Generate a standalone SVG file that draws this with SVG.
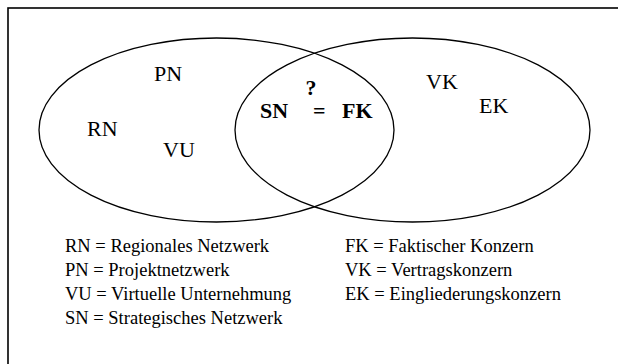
<svg xmlns="http://www.w3.org/2000/svg" width="618" height="364" viewBox="0 0 618 364">
<style>
text{font-family:'Liberation Serif','Times New Roman',serif;fill:#000}
.big{font-size:22px}
.b{font-size:22px;font-weight:bold}
.leg{font-size:18.5px}
.sh{fill:none;stroke:#000;stroke-width:1.3}
</style>
<rect width="618" height="364" fill="#fff"/>
<g id="frame"><rect x="8" y="8" width="620" height="370" fill="none" stroke="#000" stroke-width="1.6"/></g>
<g id="set-networks"><ellipse class="sh" cx="216.5" cy="130" rx="177.5" ry="92"/></g>
<g id="set-konzerne"><ellipse class="sh" cx="412.5" cy="130" rx="177.5" ry="92"/></g>
<g id="labels">
<text class="big" x="154" y="81">PN</text>
<text class="big" x="87" y="136">RN</text>
<text class="big" x="163" y="157">VU</text>
<text class="big" x="426" y="89">VK</text>
<text class="big" x="479" y="113">EK</text>
<text class="b" x="311" y="95" text-anchor="middle">?</text>
<text class="b" x="260" y="118">SN</text>
<text class="b" x="313" y="118">=</text>
<text class="b" x="342" y="118">FK</text>
</g>
<g id="legend">
<text class="leg" x="65" y="252">RN = Regionales Netzwerk</text>
<text class="leg" x="65" y="276">PN = Projektnetzwerk</text>
<text class="leg" x="65" y="300">VU = Virtuelle Unternehmung</text>
<text class="leg" x="65" y="324">SN = Strategisches Netzwerk</text>
<text class="leg" x="345" y="252">FK = Faktischer Konzern</text>
<text class="leg" x="345" y="276">VK = Vertragskonzern</text>
<text class="leg" x="345" y="300">EK = Eingliederungskonzern</text>
</g>
</svg>
